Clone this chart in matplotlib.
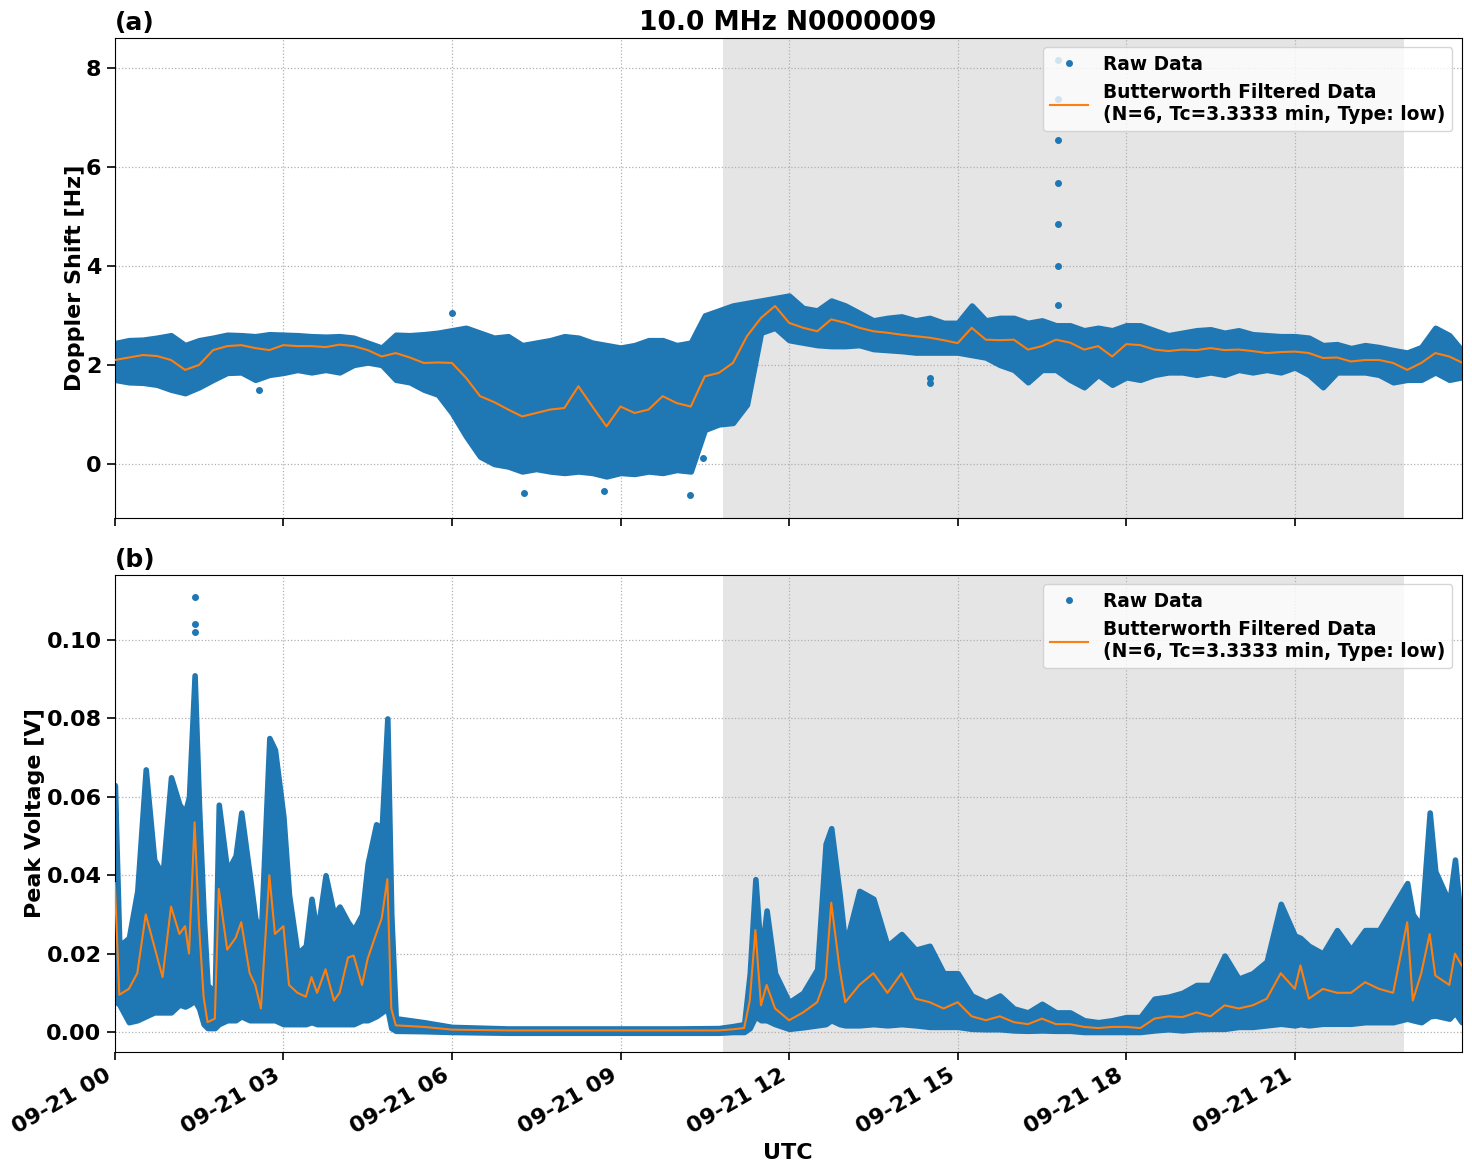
import numpy as np
import pandas as pd
import matplotlib
matplotlib.use("Agg")
import matplotlib.pyplot as plt
import matplotlib.dates as mdates

# ---- data (hours after 09-21 00 UTC) ----
BASE = pd.Timestamp("2023-09-21 00:00")

doppler_hours = np.append(np.arange(0, 24, 0.25), 23.97)
doppler_filt = [
    2.10, 2.15, 2.20, 2.18, 2.10, 1.90, 2.00, 2.30, 2.38, 2.40, 2.34, 2.30,
    2.40, 2.38, 2.38, 2.36, 2.41, 2.38, 2.30, 2.17, 2.24, 2.15, 2.04, 2.05,
    2.04, 1.74, 1.37, 1.25, 1.10, 0.96, 1.03, 1.10, 1.13, 1.57, 1.16, 0.76,
    1.16, 1.03, 1.10, 1.37, 1.23, 1.16, 1.77, 1.84, 2.04, 2.58, 2.95, 3.19,
    2.85, 2.75, 2.68, 2.92, 2.85, 2.75, 2.68, 2.65, 2.61, 2.58, 2.55, 2.50,
    2.44, 2.75, 2.51, 2.50, 2.51, 2.31, 2.38, 2.51, 2.45, 2.31, 2.38, 2.17,
    2.42, 2.40, 2.31, 2.28, 2.31, 2.30, 2.34, 2.30, 2.31, 2.28, 2.24, 2.26,
    2.27, 2.24, 2.14, 2.15, 2.07, 2.10, 2.10, 2.04, 1.90, 2.04, 2.24, 2.17,
    2.05,
]
doppler_low = [
    1.70, 1.65, 1.64, 1.60, 1.50, 1.43, 1.55, 1.70, 1.84, 1.85, 1.70, 1.80,
    1.84, 1.90, 1.85, 1.90, 1.85, 2.00, 2.05, 2.00, 1.70, 1.65, 1.50, 1.40,
    1.03, 0.56, 0.15, 0.00, -0.05, -0.15, -0.10, -0.15, -0.18, -0.15, -0.18, -0.25,
    -0.18, -0.20, -0.15, -0.18, -0.12, -0.15, 0.69, 0.80, 0.83, 1.20, 2.65, 2.75,
    2.50, 2.45, 2.40, 2.38, 2.38, 2.40, 2.32, 2.30, 2.28, 2.25, 2.25, 2.25,
    2.25, 2.20, 2.15, 2.00, 1.90, 1.65, 1.90, 1.90, 1.70, 1.55, 1.80, 1.60,
    1.75, 1.70, 1.80, 1.85, 1.85, 1.80, 1.85, 1.80, 1.90, 1.85, 1.90, 1.85,
    1.95, 1.80, 1.55, 1.85, 1.85, 1.85, 1.80, 1.65, 1.70, 1.70, 1.85, 1.70,
    1.75,
]
doppler_high = [
    2.44, 2.50, 2.51, 2.55, 2.60, 2.40, 2.50, 2.55, 2.61, 2.60, 2.58, 2.62,
    2.61, 2.60, 2.58, 2.57, 2.58, 2.55, 2.45, 2.35, 2.61, 2.60, 2.62, 2.65,
    2.70, 2.75, 2.65, 2.55, 2.58, 2.40, 2.45, 2.50, 2.58, 2.55, 2.45, 2.40,
    2.35, 2.40, 2.50, 2.50, 2.40, 2.45, 3.00, 3.10, 3.20, 3.25, 3.30, 3.35,
    3.40, 3.15, 3.10, 3.30, 3.20, 3.05, 2.90, 2.95, 2.98, 2.90, 2.95, 2.85,
    2.85, 3.20, 2.90, 2.95, 2.95, 2.85, 2.90, 2.80, 2.80, 2.70, 2.75, 2.70,
    2.80, 2.80, 2.70, 2.60, 2.65, 2.70, 2.72, 2.65, 2.70, 2.62, 2.60, 2.58,
    2.58, 2.55, 2.40, 2.42, 2.34, 2.40, 2.36, 2.30, 2.25, 2.36, 2.75, 2.60,
    2.30,
]
doppler_out_hours = [16.78, 16.78, 16.78, 16.78, 16.78, 16.78, 16.78,
                     14.5, 14.5, 10.46, 6.05, 10.23, 7.29, 2.56, 6.0, 8.7]
doppler_out_vals = [3.2, 4.0, 4.85, 5.68, 6.55, 7.37, 8.16,
                    1.64, 1.74, 0.12, 1.03, -0.62, -0.59, 1.50, 3.05, -0.55]

volt_hours = [
    0.00, 0.08, 0.25, 0.40, 0.55, 0.70, 0.85, 1.00, 1.15, 1.25, 1.32, 1.42,
    1.50, 1.58, 1.65, 1.78, 1.85, 2.00, 2.15, 2.25, 2.40, 2.50, 2.60, 2.75,
    2.85, 3.00, 3.10, 3.25, 3.40, 3.50, 3.60, 3.75, 3.90, 4.00, 4.15, 4.25,
    4.40, 4.50, 4.65, 4.75, 4.85, 4.92, 5.00, 5.50, 6.00, 7.00, 8.00, 9.00,
    10.00, 10.75, 11.00, 11.20, 11.30, 11.40, 11.50, 11.60, 11.75, 12.00, 12.25, 12.50,
    12.65, 12.75, 12.90, 13.00, 13.25, 13.50, 13.75, 14.00, 14.25, 14.50, 14.75, 15.00,
    15.25, 15.50, 15.75, 16.00, 16.25, 16.50, 16.75, 17.00, 17.25, 17.50, 17.75, 18.00,
    18.25, 18.50, 18.75, 19.00, 19.25, 19.50, 19.75, 20.00, 20.25, 20.50, 20.75, 21.00,
    21.10, 21.25, 21.50, 21.75, 22.00, 22.25, 22.50, 22.75, 23.00, 23.10, 23.25, 23.40,
    23.50, 23.75, 23.85, 23.97,
]
volt_filt = [
    0.038, 0.0095, 0.011, 0.015, 0.030, 0.022, 0.014, 0.032, 0.025, 0.027, 0.020, 0.0535,
    0.027, 0.009, 0.0025, 0.0034, 0.0365, 0.021, 0.024, 0.028, 0.015, 0.012, 0.006, 0.040,
    0.025, 0.027, 0.012, 0.010, 0.009, 0.014, 0.010, 0.016, 0.008, 0.010, 0.019, 0.0195,
    0.012, 0.0187, 0.025, 0.029, 0.039, 0.006, 0.0017, 0.0013, 0.0006, 0.0004, 0.0004, 0.0004,
    0.0004, 0.0004, 0.0007, 0.0010, 0.008, 0.026, 0.0068, 0.012, 0.006, 0.003, 0.005, 0.0076,
    0.0136, 0.033, 0.016, 0.0076, 0.012, 0.015, 0.010, 0.015, 0.0085, 0.0076, 0.006, 0.0076,
    0.004, 0.003, 0.004, 0.0025, 0.002, 0.0034, 0.002, 0.002, 0.0013, 0.001, 0.0013, 0.0013,
    0.001, 0.0034, 0.004, 0.0038, 0.005, 0.004, 0.0068, 0.006, 0.0068, 0.0085, 0.015, 0.011,
    0.017, 0.0085, 0.011, 0.010, 0.010, 0.0127, 0.011, 0.010, 0.028, 0.008, 0.015, 0.025,
    0.0144, 0.012, 0.020, 0.017,
]
volt_low = [
    0.008, 0.007, 0.0025, 0.003, 0.004, 0.005, 0.005, 0.005, 0.007, 0.0065, 0.007, 0.008,
    0.006, 0.002, 0.001, 0.001, 0.002, 0.003, 0.003, 0.004, 0.003, 0.003, 0.003, 0.003,
    0.003, 0.002, 0.002, 0.002, 0.002, 0.0025, 0.002, 0.002, 0.002, 0.002, 0.002, 0.002,
    0.003, 0.003, 0.004, 0.005, 0.006, 0.001, 0.0003, 0.0002, 0.0, -0.0002, -0.0002, -0.0002,
    -0.0002, -0.0002, 0.0, 0.0, 0.001, 0.004, 0.003, 0.003, 0.002, 0.0008, 0.0012, 0.0017,
    0.002, 0.003, 0.002, 0.0017, 0.0017, 0.002, 0.0017, 0.002, 0.0017, 0.0013, 0.0013, 0.0013,
    0.0008, 0.0007, 0.0007, 0.0004, 0.0003, 0.0004, 0.0003, 0.0003, 0.0, 0.0, 0.0, 0.0,
    0.0, 0.0004, 0.0007, 0.0004, 0.0007, 0.0008, 0.0008, 0.0013, 0.0013, 0.0017, 0.0021, 0.0017,
    0.002, 0.0017, 0.0021, 0.0021, 0.0021, 0.0025, 0.0025, 0.0025, 0.0034, 0.003, 0.0025, 0.004,
    0.0042, 0.0034, 0.005, 0.0025,
]
volt_high = [
    0.063, 0.022, 0.024, 0.036, 0.067, 0.044, 0.040, 0.065, 0.058, 0.056, 0.060, 0.091,
    0.057, 0.030, 0.012, 0.010, 0.058, 0.041, 0.045, 0.056, 0.040, 0.029, 0.025, 0.075,
    0.072, 0.055, 0.035, 0.020, 0.022, 0.034, 0.025, 0.040, 0.030, 0.032, 0.028, 0.026,
    0.030, 0.043, 0.053, 0.052, 0.080, 0.030, 0.0035, 0.0025, 0.0013, 0.0009, 0.0009, 0.0009,
    0.0009, 0.0010, 0.0015, 0.002, 0.015, 0.039, 0.019, 0.031, 0.015, 0.0076, 0.010, 0.016,
    0.048, 0.052, 0.035, 0.022, 0.036, 0.034, 0.022, 0.025, 0.021, 0.022, 0.015, 0.015,
    0.0093, 0.0076, 0.0093, 0.006, 0.005, 0.0072, 0.005, 0.005, 0.003, 0.0025, 0.003, 0.0038,
    0.0038, 0.0085, 0.009, 0.010, 0.012, 0.012, 0.0195, 0.0136, 0.015, 0.018, 0.0327, 0.0246,
    0.024, 0.022, 0.020, 0.026, 0.021, 0.026, 0.026, 0.032, 0.038, 0.030, 0.027, 0.056,
    0.041, 0.033, 0.044, 0.026,
]
volt_out_hours = [1.42, 1.42, 1.42]
volt_out_vals = [0.111, 0.104, 0.102]

shade_start, shade_end = 10.82, 22.94
filt_label = "Butterworth Filtered Data\n(N=6, Tc=3.3333 min, Type: low)"

BLUE = "#1f77b4"
ORANGE = "#ff7f0e"


def to_time(hours):
    return BASE + pd.to_timedelta(np.asarray(hours, dtype=float), unit="h")


def draw_panel(ax, hours, low, high, filt, out_h, out_v):
    t = to_time(hours)
    ax.axvspan(to_time([shade_start])[0], to_time([shade_end])[0],
               color="0.5", alpha=0.2, lw=0, zorder=0)
    band = ax.fill_between(t, low, high, color=BLUE, edgecolor=BLUE,
                           linewidth=4, zorder=2)
    band.set_joinstyle("round")
    ax.plot(to_time(out_h), out_v, ".", color=BLUE, markersize=8, zorder=2)
    # legend proxy for the raw points
    ax.plot([], [], ".", color=BLUE, markersize=8, label="Raw Data")
    ax.plot(t, filt, color=ORANGE, lw=1.5, label=filt_label, zorder=3)
    ax.grid(True, linestyle=":", color="#b0b0b0", lw=0.9)
    ax.set_axisbelow(True)
    ax.tick_params(labelsize=16, length=6, width=1.2)
    for lab in ax.get_yticklabels():
        lab.set_fontweight("bold")
    ax.legend(loc="upper right", prop={"weight": "bold", "size": 13.4},
              numpoints=1)


plt.rcParams["font.weight"] = "bold"
plt.rcParams["axes.labelweight"] = "bold"
plt.rcParams["axes.titleweight"] = "bold"

fig = plt.figure(figsize=(14.72, 11.72), dpi=100)
ax1 = fig.add_axes([0.078, 0.558, 0.915, 0.4096])
ax2 = fig.add_axes([0.078, 0.1024, 0.915, 0.407], sharex=ax1)

draw_panel(ax1, doppler_hours, doppler_low, doppler_high, doppler_filt,
           doppler_out_hours, doppler_out_vals)
draw_panel(ax2, volt_hours, volt_low, volt_high, volt_filt,
           volt_out_hours, volt_out_vals)

ax1.set_ylim(-1.09, 8.6)
ax1.set_yticks([0, 2, 4, 6, 8])
ax1.set_ylabel("Doppler Shift [Hz]", fontsize=16, labelpad=1)
ax1.set_title("10.0 MHz N0000009", fontsize=19)
ax1.set_title("(a)", loc="left", fontsize=18)
plt.setp(ax1.get_xticklabels(), visible=False)

ax2.set_ylim(-0.0051, 0.1166)
ax2.set_yticks([0.0, 0.02, 0.04, 0.06, 0.08, 0.10])
ax2.yaxis.set_major_formatter(matplotlib.ticker.FormatStrFormatter("%.2f"))
ax2.set_ylabel("Peak Voltage [V]", fontsize=16, labelpad=1)
ax2.set_title("(b)", loc="left", fontsize=18)
ax2.set_xlabel("UTC", fontsize=16)

ax2.set_xlim(to_time([0])[0], to_time([23.97])[0])
ax2.xaxis.set_major_locator(mdates.HourLocator(byhour=range(0, 24, 3)))
ax2.xaxis.set_major_formatter(mdates.DateFormatter("%m-%d %H"))
for lab in ax2.get_xticklabels():
    lab.set_rotation(30)
    lab.set_ha("right")
    lab.set_fontweight("bold")
    lab.set_fontsize(16)

fig.savefig("out.png", dpi=100)
